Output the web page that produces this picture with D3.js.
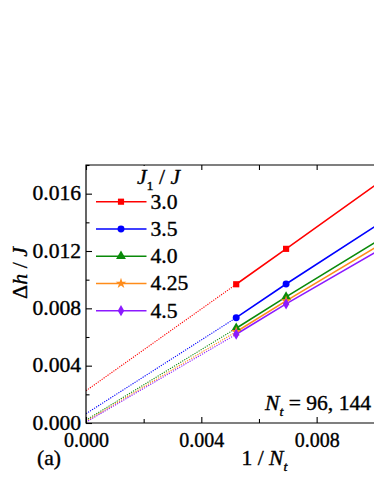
<!DOCTYPE html>
<html><head><meta charset="utf-8">
<script src="https://cdn.jsdelivr.net/npm/d3@7"></script>
<style>body{margin:0;background:#fff}svg{display:block}
svg text{stroke:#000;stroke-width:0.35px;}</style>
</head><body>
<script>
// ---- data ----
const seriesLabels = ["3.0", "3.5", "4.0", "4.25", "4.5"];
const seriesColors = ["#ff0000", "#0000ff", "#0a8a0a", "#ff8c1a", "#8c1aff"];
const invNt = [0.00521, 0.00694];                 // 1/Nt of the two computed points
const dhPoints = [
  [0.00968, 0.01215],
  [0.00735, 0.00970],
  [0.00661, 0.00880],
  [0.00637, 0.00852],
  [0.00619, 0.00831]
];
const edgeX = 0.010;
const dhEdge = [0.01654, 0.01368, 0.01256, 0.01220, 0.01186];   // solid line value at 1/Nt = 0.010
const dhIntercept = [0.00225, 0.00065, 0.00020, 0.00012, 0.00006]; // dotted extrapolation at 1/Nt = 0
const xMajor = [0.000, 0.004, 0.008];
const xMinor = [0.002, 0.006];
const yMajor = [0.000, 0.004, 0.008, 0.012, 0.016];
const yMinor = [0.002, 0.006, 0.010, 0.014, 0.018];

const W = 374, H = 484;
const FONT = '"Liberation Serif", "Times New Roman", serif';
const SX = 1.08, FS = 20;

const svg = d3.select("body").append("svg").attr("width", W).attr("height", H);
const x = d3.scaleLinear().domain([0, 0.010]).range([86, 374.3]);
const y = d3.scaleLinear().domain([0, 0.018]).range([423, 165]);

svg.append("defs").append("clipPath").attr("id", "clip")
  .append("rect").attr("x", x(0)).attr("y", y(0.018))
  .attr("width", x(0.010) - x(0)).attr("height", y(0) - y(0.018));

const plot = svg.append("g").attr("clip-path", "url(#clip)");
const line = d3.line().x(d => x(d[0])).y(d => y(d[1]));

const symbols = [d3.symbolSquare, d3.symbolCircle, d3.symbolTriangle, d3.symbolStar, d3.symbolDiamond];
const symSizes = [38, 38, 42, 36, 36];

seriesLabels.forEach((lab, i) => {
  plot.append("path")
    .attr("d", line([[0, dhIntercept[i]], [invNt[0], dhPoints[i][0]]]))
    .attr("fill", "none").attr("stroke", seriesColors[i]).attr("stroke-width", 1.1)
    .attr("stroke-dasharray", "1.2,1.2");
  plot.append("path")
    .attr("d", line([[invNt[0], dhPoints[i][0]], [invNt[1], dhPoints[i][1]], [edgeX, dhEdge[i]]]))
    .attr("fill", "none").attr("stroke", seriesColors[i]).attr("stroke-width", 1.6);
});
seriesLabels.forEach((lab, i) => {
  invNt.forEach((xv, k) => {
    plot.append("path")
      .attr("d", d3.symbol().type(symbols[i]).size(symSizes[i])())
      .attr("transform", `translate(${x(xv)},${y(dhPoints[i][k])})`)
      .attr("fill", seriesColors[i]);
  });
});

// axes (ticks inward)
function styleAxis(g) {
  g.attr("font-family", null);
  g.select(".domain").remove();
  g.selectAll("line").attr("stroke", "#000").attr("stroke-width", 1.1);
  g.selectAll("text").style("font-family", FONT).style("font-size", FS + "px").attr("fill", "#000");
}
const gL = svg.append("g").attr("transform", `translate(${x(0)},0)`)
  .call(d3.axisLeft(y).tickValues(yMajor).tickSize(-6).tickSizeOuter(0).tickPadding(5).tickFormat(d3.format(".3f")));
styleAxis(gL);
gL.selectAll("text").attr("dy", "0.3em").attr("transform", `scale(${SX},1)`).attr("x", -5 / SX);
svg.append("g").attr("transform", `translate(${x(0)},0)`)
  .call(d3.axisLeft(y).tickValues(yMinor).tickSize(-3.5).tickSizeOuter(0).tickFormat(""))
  .call(styleAxis);

const gB = svg.append("g").attr("transform", `translate(0,${y(0)})`)
  .call(d3.axisBottom(x).tickValues(xMajor).tickSize(-6).tickSizeOuter(0).tickPadding(10).tickFormat(d3.format(".3f")));
styleAxis(gB);
gB.selectAll("text").attr("dy", "0.71em").attr("y", 10);
svg.append("g").attr("transform", `translate(0,${y(0)})`)
  .call(d3.axisBottom(x).tickValues(xMinor).tickSize(-4).tickSizeOuter(0).tickFormat(""))
  .call(styleAxis);
svg.append("g").attr("transform", `translate(0,${y(0.018)})`)
  .call(d3.axisTop(x).tickValues(xMajor.concat(xMinor)).tickSize(-5).tickSizeOuter(0).tickFormat(""))
  .call(styleAxis);

// frame
svg.append("path")
  .attr("d", `M${x(0.010)},${y(0.018)}H${x(0)}V${y(0)}H${x(0.010)}`)
  .attr("fill", "none").attr("stroke", "#000").attr("stroke-width", 1.2);

// text helper
function txt(px, py, anchor) {
  return svg.append("g").attr("transform", `translate(${px},${py}) scale(${SX},1)`)
    .append("text").attr("text-anchor", anchor)
    .style("font-family", FONT).style("font-size", FS + "px").attr("fill", "#000");
}

// legend
svg.append("rect").attr("x", 92).attr("y", 166).attr("width", 90).attr("height", 152).attr("fill", "#fff");
const lt = txt(137, 184, "start");
lt.append("tspan").style("font-style", "italic").text("J");
lt.append("tspan").style("font-size", "13px").attr("dy", 6).text("1");
lt.append("tspan").attr("dy", -6).text(" / ");
lt.append("tspan").style("font-style", "italic").text("J");

seriesLabels.forEach((lab, i) => {
  const ry = 201.7 + i * 27.25;
  svg.append("line").attr("x1", 96).attr("x2", 146.5).attr("y1", ry).attr("y2", ry)
    .attr("stroke", seriesColors[i]).attr("stroke-width", 1.6);
  svg.append("path").attr("d", d3.symbol().type(symbols[i]).size(symSizes[i])())
    .attr("transform", `translate(121,${ry})`).attr("fill", seriesColors[i]);
  txt(150.5, ry + 6.8, "start").text(lab);
});

// axis titles
const yt = svg.append("g").attr("transform", "translate(27,273) rotate(-90)")
  .append("text").attr("text-anchor", "middle")
  .style("font-family", FONT).style("font-size", "22px").attr("fill", "#000");
yt.append("tspan").text("Δ");
yt.append("tspan").style("font-style", "italic").text("h");
yt.append("tspan").text(" / ");
yt.append("tspan").style("font-style", "italic").text("J");

const xt = txt(241.5, 465, "start");
xt.append("tspan").text("1 / ");
xt.append("tspan").style("font-style", "italic").text("N");
xt.append("tspan").style("font-style", "italic").style("font-size", "13px").attr("dy", 6).text("t");

const nt = txt(265, 410, "start");
nt.append("tspan").style("font-style", "italic").text("N");
nt.append("tspan").style("font-style", "italic").style("font-size", "13px").attr("dy", 6).text("t");
nt.append("tspan").attr("dy", -6).text(" = 96, 144");

txt(37, 465, "start").text("(a)");
</script>
</body></html>
